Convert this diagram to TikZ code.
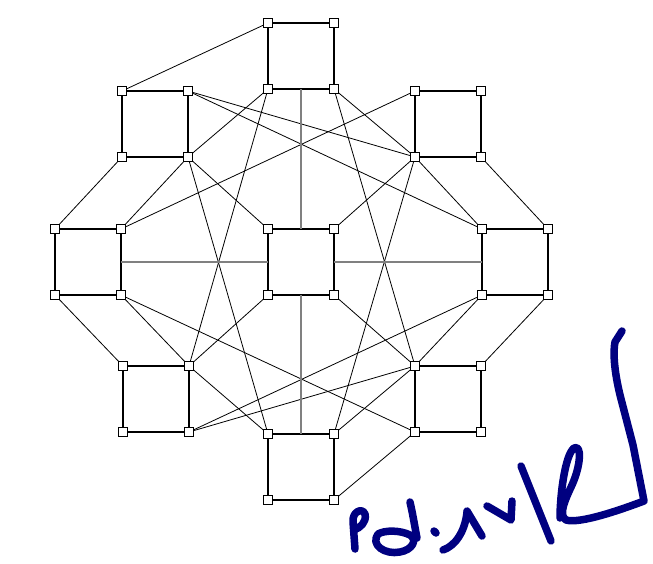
\documentclass[tikz,border=0pt]{standalone}
\usetikzlibrary{calc}
\pgfdeclarelayer{bg}
\pgfsetlayers{bg,main}
\definecolor{inkblue}{HTML}{000080}
\tikzset{
  vtx/.style={draw=black, line width=1.4pt, fill=white, rectangle, minimum size=8.5pt, inner sep=0pt},
  sqedge/.style={line width=2pt, black},
  thin/.style={line width=0.8pt, black},
  grayline/.style={line width=1.5pt, gray},
  ink/.style={line width=7.5pt, inkblue, line cap=round, line join=round},
}
\newcommand\vsq[3]{%
  \node[vtx] (#1tl) at (#2-33,#3-33) {};
  \node[vtx] (#1tr) at (#2+33,#3-33) {};
  \node[vtx] (#1bl) at (#2-33,#3+33) {};
  \node[vtx] (#1br) at (#2+33,#3+33) {};
  \begin{pgfonlayer}{bg}
    \draw[sqedge] (#1tl.center) -- (#1tr.center) -- (#1br.center) -- (#1bl.center) -- cycle;
  \end{pgfonlayer}}
\newcommand\edg[2]{\draw[thin] (#1.center) -- (#2.center);}
\begin{document}
\begin{tikzpicture}[x=1pt, y=-1pt]
\useasboundingbox (0,0) rectangle (653,563);
\vsq{T}{301}{56}
\vsq{UL}{155}{124}
\vsq{UR}{448}{124}
\vsq{L}{88}{262}
\vsq{C}{301}{262}
\vsq{R}{515}{262}
\vsq{LL}{156}{399}
\vsq{LR}{448}{399}
\vsq{B}{301}{467}
\begin{pgfonlayer}{bg}
\edg{Ttl}{ULtl}
\edg{ULtr}{URbl}
\edg{ULtr}{Rtl}
\edg{ULbl}{Ltl}
\edg{ULbr}{Ctl}
\edg{ULbr}{Btl}
\edg{Tbl}{ULbr}
\edg{ULbr}{Ltr}
\edg{Tbl}{LLtr}
\edg{Ltr}{URtl}
\edg{Tbr}{URbl}
\edg{URbl}{Rtl}
\edg{Tbr}{LRtl}
\edg{URbl}{Ctr}
\edg{URbl}{Btr}
\edg{URbr}{Rtr}
\edg{Lbl}{LLtl}
\edg{Lbr}{LLtr}
\edg{LLtr}{Btl}
\edg{Lbr}{LRbl}
\edg{LLtr}{Cbl}
\edg{LLbr}{Rbl}
\edg{LLbr}{LRtl}
\edg{Cbr}{LRtl}
\edg{Rbl}{LRtl}
\edg{LRtl}{Btr}
\edg{Bbr}{LRbl}
\edg{LRtr}{Rbr}
\draw[grayline] ($(Tbl.center)!0.5!(Tbr.center)$) -- ($(Ctl.center)!0.5!(Ctr.center)$);
\draw[grayline] ($(Cbl.center)!0.5!(Cbr.center)$) -- ($(Btl.center)!0.5!(Btr.center)$);
\draw[grayline] ($(Ltr.center)!0.5!(Lbr.center)$) -- ($(Ctl.center)!0.5!(Cbl.center)$);
\draw[grayline] ($(Ctr.center)!0.5!(Cbr.center)$) -- ($(Rtl.center)!0.5!(Rbl.center)$);
\end{pgfonlayer}
% handwritten scribble
\draw[ink] (355,549) -- (353,522) .. controls (352,512) and (362,507) .. (365,514) .. controls (367,522) and (360,528) .. (354,530);
\draw[ink] (378,534) .. controls (370,545) and (385,555) .. (400,552) .. controls (412,550) and (418,540) .. (410,535) .. controls (400,530) and (385,530) .. (378,534);
\draw[ink] (410,502) .. controls (413,515) and (415,528) .. (417,538);
\draw[ink] (434,531) -- (436,533);
\draw[ink] (443,550) .. controls (455,546) and (465,532) .. (467,512);
\draw[ink] (467,511) -- (482,536);
\draw[ink] (487,506) -- (511,520) -- (512,501);
\draw[ink] (521,466) -- (551,541);
\draw[ink] (560,518) .. controls (560,495) and (565,455) .. (574,448) .. controls (582,444) and (581,465) .. (572,485) .. controls (565,500) and (558,515) .. (566,520) .. controls (580,524) and (620,510) .. (644,501) -- (633,445) -- (620,395) .. controls (614,370) and (613,352) .. (615,342) -- (622,331);
\end{tikzpicture}
\end{document}
